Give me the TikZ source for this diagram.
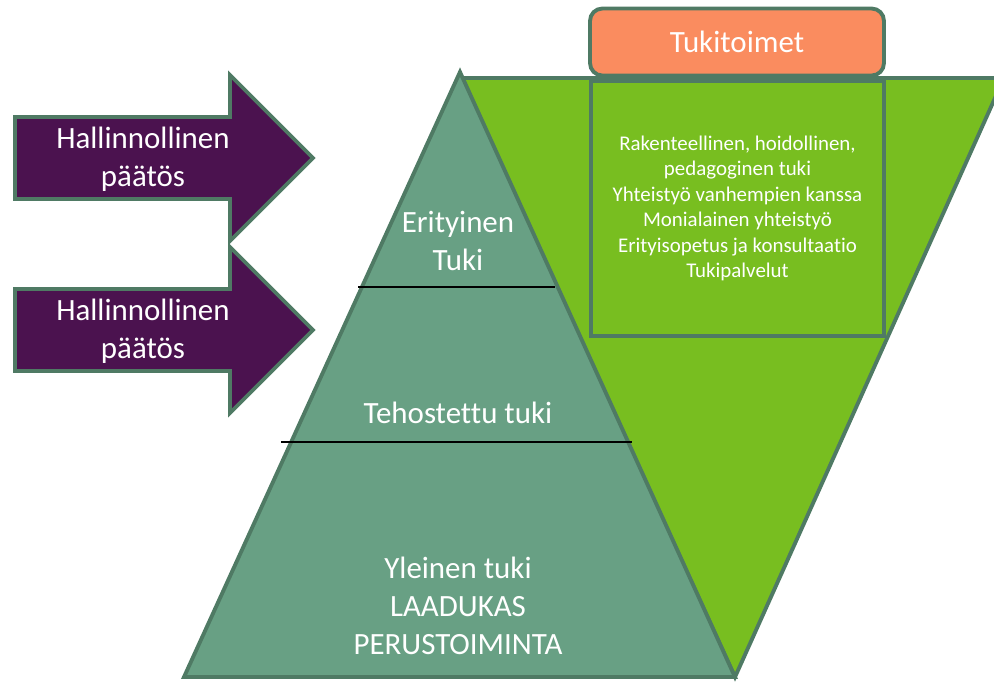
\documentclass[tikz,border=0pt]{standalone}
\usepackage{fontspec}
\setmainfont{Carlito}[Ligatures={NoCommon}]
\usepackage{tikz}
\usetikzlibrary{positioning}

\definecolor{edgegreen}{HTML}{4F7A64}
\definecolor{pyramidfill}{HTML}{68A084}
\definecolor{wedgegreen}{HTML}{78BE20}
\definecolor{orangebox}{HTML}{FA8C5F}
\definecolor{arrowpurple}{HTML}{4B124F}

\begin{document}
\begin{tikzpicture}[x=0.02cm, y=-0.02cm, line join=miter,
   shape_style/.style={draw=edgegreen, line width=2.2pt},
   arrow_style/.style={shape_style, fill=arrowpurple},
   big_text/.style={text=white, align=center, inner sep=0pt, font=\fontsize{17.6}{21.6}\selectfont},
   small_text/.style={text=white, align=center, inner sep=0pt, font=\fontsize{11.9}{14.5}\selectfont}]
	\useasboundingbox (0,0) rectangle (994,681);

	% green wedge and pyramid
	\draw [shape_style, fill=wedgegreen] (460,78) -- (1004,78) -- (735,677) -- cycle;
	\draw [shape_style, fill=pyramidfill] (460,72) -- (735,677) -- (184,677) -- cycle;
	\draw [black, line width=0.9pt] (358,287) -- (555,287);
	\draw [black, line width=0.9pt] (281,442) -- (632,442);

	\node [big_text] (erityinen) at (458,241) {Erityinen\\Tuki};
	\node [big_text] (tehostettu) at (458,413) {Tehostettu tuki};
	\node [big_text] (yleinen) at (458,606) {Yleinen tuki\\LAADUKAS\\PERUSTOIMINTA};

	% support measures
	\node [shape_style, fill=orangebox, rounded corners=7pt, minimum width=5.88cm, minimum height=1.34cm,
	   big_text, inner sep=0pt] (tukitoimet) at (737,42) {Tukitoimet};
	\node [shape_style, fill=wedgegreen, minimum width=5.86cm, minimum height=5.1cm,
	   small_text] (toimet) at (737.5,208.5) {Rakenteellinen, hoidollinen,\\pedagoginen tuki\\Yhteistyö vanhempien kanssa\\Monialainen yhteistyö\\Erityisopetus ja konsultaatio\\Tukipalvelut};

	% decision arrows
	\foreach \name/\yc in {top/158, bottom/330}
	{
	  \draw [arrow_style] (15,\yc-41) -- (230,\yc-41) -- (230,\yc-83) -- (313,\yc)
	     -- (230,\yc+83) -- (230,\yc+41) -- (15,\yc+41) -- cycle;
	  \node [big_text] (paatos_\name) at (143,\yc+1) {Hallinnollinen\\päätös};
	}

\end{tikzpicture}
\end{document}
